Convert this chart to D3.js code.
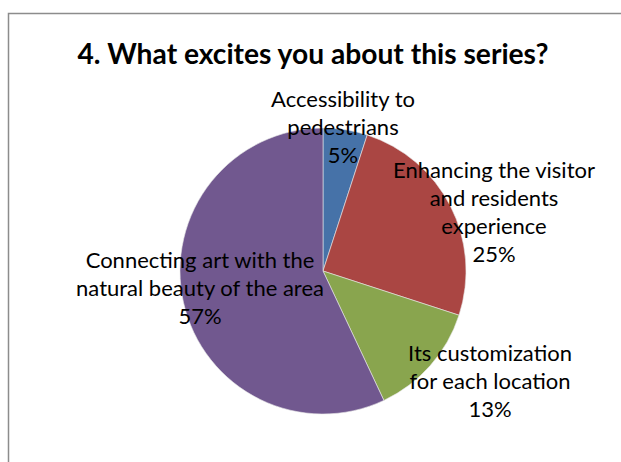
<!DOCTYPE html>
<html>
<head>
<meta charset="utf-8">
<script src="https://cdn.jsdelivr.net/npm/d3@7"></script>
<style>
  body { margin: 0; background: #fff; }
  text { font-family: Lato, "Open Sans", sans-serif; fill: #000; }
</style>
</head>
<body>
<div id="chart"></div>
<script>
// data
var categories = [
    ['Accessibility to', 'pedestrians'],
    ['Enhancing the visitor', 'and residents', 'experience'],
    ['Its customization', 'for each location'],
    ['Connecting art with the', 'natural beauty of the area']
];
var values = [5, 25, 13, 57];
var colors = ['#4672A8', '#AA4643', '#89A54E', '#71588F'];
var title = '4. What excites you about this series?';

var sizes = {width: 621, height: 462};
var svg = d3.select('#chart')
            .append('svg')
            .attr('width', sizes.width)
            .attr('height', sizes.height);

// chart frame
svg.append('rect')
    .attr('x', 8.5).attr('y', 13.5)
    .attr('width', 640).attr('height', 480)
    .style('fill', 'none')
    .style('stroke', '#8c8c8c')
    .style('stroke-width', 1.5);

svg.append('text')
    .attr('x', 313).attr('y', 64)
    .attr('text-anchor', 'middle')
    .style('font-size', '28.2px')
    .style('font-weight', 'bold')
    .text(title);

var cx = 323, cy = 271, r = 143;
var pie = d3.pie().sort(null).value(function(d){ return d; });
var arc = d3.arc().innerRadius(0).outerRadius(r);
var arcs = pie(values);

var g = svg.append('g').attr('transform', 'translate(' + cx + ',' + cy + ')');
g.selectAll('path')
    .data(arcs)
    .enter()
    .append('path')
    .attr('d', arc)
    .style('fill', function(d, i){ return colors[i]; })
    .style('stroke', '#e8e8e8')
    .style('stroke-width', 0.6);

// label anchor points (offsets from pie centre), Excel best-fit placement
var labelPos = [[20, -164], [171, -93], [167, 90], [-123, -3]];
var lineH = 28;

arcs.forEach(function(d, i){
    var lines = categories[i].concat([values[i] + '%']);
    var t = g.append('text')
        .attr('text-anchor', 'middle')
        .style('font-size', '22px');
    lines.forEach(function(s, k){
        t.append('tspan')
            .attr('x', labelPos[i][0])
            .attr('y', labelPos[i][1] + k * lineH)
            .text(s);
    });
});
</script>
</body>
</html>
